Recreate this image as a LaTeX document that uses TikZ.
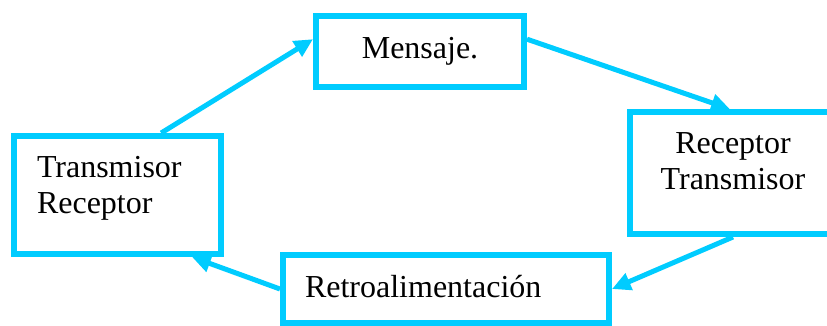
\documentclass[tikz,border=0pt]{standalone}
\usepackage{fontspec}
\setmainfont{Liberation Serif}
\usetikzlibrary{arrows.meta,calc}
\definecolor{cyanline}{RGB}{0,204,255}

\begin{document}
\begin{tikzpicture}[x=0.75pt, y=-0.75pt,
    box/.style={draw=cyanline, line width=4.5pt, inner sep=0pt, anchor=north west,
        font=\fontsize{24pt}{27.5pt}\selectfont},
    flow/.style={draw=cyanline, line width=3.75pt, -{Triangle[length=14pt,width=13pt]}}]
    \useasboundingbox (0,0) rectangle (827,325);

    % Boxes
    \node[box, minimum width=156pt, text height=31.5pt, text depth=21.75pt]
        (mensaje) at (313,13) {Mensaje.};
    \node[box, text width=154.5pt, align=center, text height=30.75pt, text depth=60.75pt]
        (rt) at (627,109) {Receptor\\Transmisor};
    \node[box, inner xsep=17.25pt, text width=120.75pt, align=left,
        text height=30.75pt, text depth=57.75pt]
        (tr) at (11,133) {Transmisor\\Receptor};
    \node[box, inner xsep=16.5pt, text width=211.5pt, align=left,
        text height=31.5pt, text depth=19.5pt]
        (retro) at (280,252) {Retroalimentación};

    % Cycle
    \draw[flow] ($(tr.north west)!0.705!(tr.north east)$) -- ($(mensaje.north west)!0.34!(mensaje.south west)$);
    \draw[flow] ($(mensaje.north east)!0.34!(mensaje.south east)$) -- ($(rt.north west)!0.485!(rt.north east)$);
    \draw[flow] (rt.south) -- (retro.east);
    \draw[flow] (retro.west) -- ($(tr.south west)!0.85!(tr.south east)$);
\end{tikzpicture}
\end{document}
